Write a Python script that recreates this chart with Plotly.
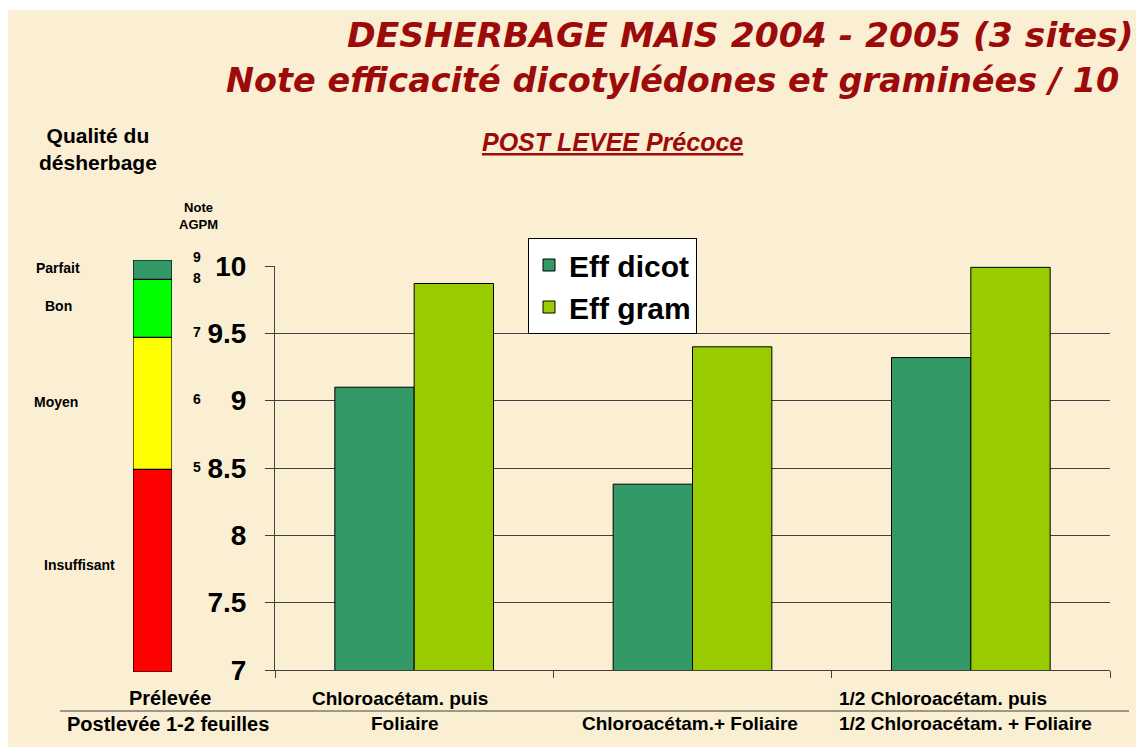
import plotly.graph_objects as go

# ---------------- data ----------------
categories = ["Chloroacétam. puis Foliaire", "Chloroacétam.+ Foliaire",
              "1/2 Chloroacétam. puis 1/2 Chloroacétam. + Foliaire"]
label_line1 = ["Chloroacétam. puis", "", "1/2 Chloroacétam. puis"]
label_line2 = ["Foliaire", "Chloroacétam.+ Foliaire", "1/2 Chloroacétam. + Foliaire"]
eff_dicot = [9.10, 8.38, 9.32]
eff_gram = [9.87, 9.40, 9.99]
y_ticks = [7, 7.5, 8, 8.5, 9, 9.5, 10]
y_ticktext = ["7", "7.5", "8", "8.5", "9", "9.5", "10"]

# quality scale (left bar), in chart units
quality_names = ["Insuffisant", "Moyen", "Bon", "Parfait"]
quality_bottom = [6.985, 8.49, 9.47, 9.90]
quality_top = [8.49, 9.47, 9.90, 10.044]
quality_colors = ["#FF0000", "#FFFF00", "#00FF00", "#339966"]
agpm_notes = ["9", "8", "7", "6", "5"]
agpm_pos = [10.07, 9.91, 9.51, 9.01, 8.51]

# page geometry (figure sits 8px from page top-left because of body margin)
W, H = 1136, 739
L, R, T, B = 12, 32, 247, 70
pw, ph = W - L - R, H - T - B
Y0_PX, Y1_PX = 670, 266  # pixel rows of y=7 and y=10


def px(x):
    return (x - 20) / pw


def py(y):
    return (677 - y) / ph


def pyv(v):
    # chart value -> paper coordinate (for labels placed beside the axis)
    return py(Y0_PX + (v - 7) * (Y1_PX - Y0_PX) / 3)


fig = go.Figure()

fig.add_trace(go.Bar(name="<b>Eff dicot</b>", x=categories, y=eff_dicot,
                     marker=dict(color="#339966", line=dict(color="black", width=1)),
                     xaxis="x", yaxis="y"))
fig.add_trace(go.Bar(name="<b>Eff gram</b>", x=categories, y=eff_gram,
                     marker=dict(color="#99CC00", line=dict(color="black", width=1)),
                     xaxis="x", yaxis="y"))

# quality scale bar
for n, b0, b1, c in zip(quality_names, quality_bottom, quality_top, quality_colors):
    fig.add_trace(go.Bar(x=[0], y=[b1 - b0], base=[b0], width=[1.0], offset=[-0.5],
                         marker=dict(color=c, line=dict(color="black", width=1.2)),
                         showlegend=False, hoverinfo="skip", name=n,
                         xaxis="x2", yaxis="y2"))

tick_font = dict(size=28, family="Arial, Liberation Sans, sans-serif", color="black")
fig.update_layout(
    width=W, height=H,
    margin=dict(l=L, r=R, t=T, b=B),
    paper_bgcolor="#FAEFD3",
    plot_bgcolor="rgba(0,0,0,0)",
    barmode="group",
    bargap=0.43,
    bargroupgap=0,
    font=dict(family="Arial, Liberation Sans, sans-serif", color="black"),
    xaxis=dict(domain=[px(275), px(1110)], range=[-0.5, 2.5], showticklabels=False,
               showline=True, linecolor="#404040", linewidth=1,
               ticks="outside", tickson="boundaries", ticklen=7, tickcolor="#404040",
               showgrid=False, zeroline=False, anchor="y"),
    yaxis=dict(domain=[py(Y0_PX), py(Y1_PX)], range=[7, 10], tickvals=y_ticks,
               ticktext=[f"<b>{t}</b>" for t in y_ticktext],
               showline=True, linecolor="#404040", linewidth=1,
               ticks="outside", ticklen=9, tickcolor="#404040",
               showgrid=True, gridcolor="#404040", gridwidth=1, zeroline=False,
               tickfont=tick_font, ticklabelstandoff=13, anchor="x"),
    xaxis2=dict(domain=[px(133), px(172)], range=[-0.5, 0.5], visible=False, anchor="y2"),
    yaxis2=dict(domain=[py(672), py(260)], range=[6.985, 10.044], visible=False, anchor="x2"),
    legend=dict(x=px(528), y=py(238), xanchor="left", yanchor="top",
                bgcolor="white", bordercolor="black", borderwidth=1,
                font=dict(size=30, family="Arial, Liberation Sans, sans-serif", color="black"),
                tracegroupgap=0),
    showlegend=True,
)

ann = []
title_font = dict(family="DejaVu Sans, sans-serif", size=34.5, color="#9C0A0A")
title_font2 = dict(family="DejaVu Sans, sans-serif", size=33.5, color="#9C0A0A")
ann.append(dict(text="<b><i>DESHERBAGE MAIS 2004 - 2005 (3 sites)</i></b>", x=px(345), y=py(35),
                xref="paper", yref="paper", xanchor="left", yanchor="middle",
                showarrow=False, font=title_font))
ann.append(dict(text="<b><i>Note efficacité dicotylédones et graminées / 10</i></b>", x=px(224), y=py(80),
                xref="paper", yref="paper", xanchor="left", yanchor="middle",
                showarrow=False, font=title_font2))
ann.append(dict(text="<b><i><u>POST LEVEE Précoce</u></i></b>", x=px(612), y=py(142),
                xref="paper", yref="paper", xanchor="center", yanchor="middle",
                showarrow=False, font=dict(size=25, color="#9C0A0A")))
ann.append(dict(text="<b>Qualité du<br>désherbage</b>", x=px(98), y=py(149),
                xref="paper", yref="paper", xanchor="center", yanchor="middle",
                showarrow=False, font=dict(size=21, color="black")))
ann.append(dict(text="<b>Note<br>AGPM</b>", x=px(198), y=py(216),
                xref="paper", yref="paper", xanchor="center", yanchor="middle",
                showarrow=False, font=dict(size=13, color="black")))

qual_label_y = [565, 402, 306, 268]
qual_label_x = [79, 56, 58, 58]
for n, lx, ly in zip(quality_names, qual_label_x, qual_label_y):
    ann.append(dict(text=f"<b>{n}</b>", x=px(lx), y=py(ly), xref="paper", yref="paper",
                    xanchor="center", yanchor="middle", showarrow=False,
                    font=dict(size=14, color="black")))

for note, v in zip(agpm_notes, agpm_pos):
    ann.append(dict(text=f"<b>{note}</b>", x=px(197), y=pyv(v), xref="paper", yref="paper",
                    xanchor="center", yanchor="middle", showarrow=False,
                    font=dict(size=14, color="black")))

shift1 = [-14, 0, -28]
shift2 = [-9, -3, -5]
for i, (l1, l2) in enumerate(zip(label_line1, label_line2)):
    if l1:
        ann.append(dict(text=f"<b>{l1}</b>", x=i, y=py(698), xref="x", yref="paper",
                        xanchor="center", yanchor="middle", showarrow=False,
                        xshift=shift1[i], font=dict(size=19, color="black")))
    ann.append(dict(text=f"<b>{l2}</b>", x=i, y=py(723), xref="x", yref="paper",
                    xanchor="center", yanchor="middle", showarrow=False,
                    xshift=shift2[i], font=dict(size=19, color="black")))

ann.append(dict(text="<b>Prélevée</b>", x=px(170), y=py(698), xref="paper", yref="paper",
                xanchor="center", yanchor="middle", showarrow=False,
                font=dict(size=20, color="black")))
ann.append(dict(text="<b>Postlevée 1-2 feuilles</b>", x=px(168), y=py(724), xref="paper", yref="paper",
                xanchor="center", yanchor="middle", showarrow=False,
                font=dict(size=20, color="black")))
fig.update_layout(annotations=ann)

fig.update_layout(shapes=[
    dict(type="rect", xref="paper", yref="paper", x0=px(0), x1=px(1150), y0=py(10), y1=py(0),
         fillcolor="white", line=dict(width=0), layer="below"),
    dict(type="rect", xref="paper", yref="paper", x0=px(1141), x1=px(1150), y0=py(750), y1=py(0),
         fillcolor="white", line=dict(width=0), layer="below"),
    dict(type="line", xref="paper", yref="paper", x0=px(60), x1=px(1129), y0=py(711), y1=py(711),
         line=dict(color="#404040", width=1)),
])

fig.write_html("out.html")
